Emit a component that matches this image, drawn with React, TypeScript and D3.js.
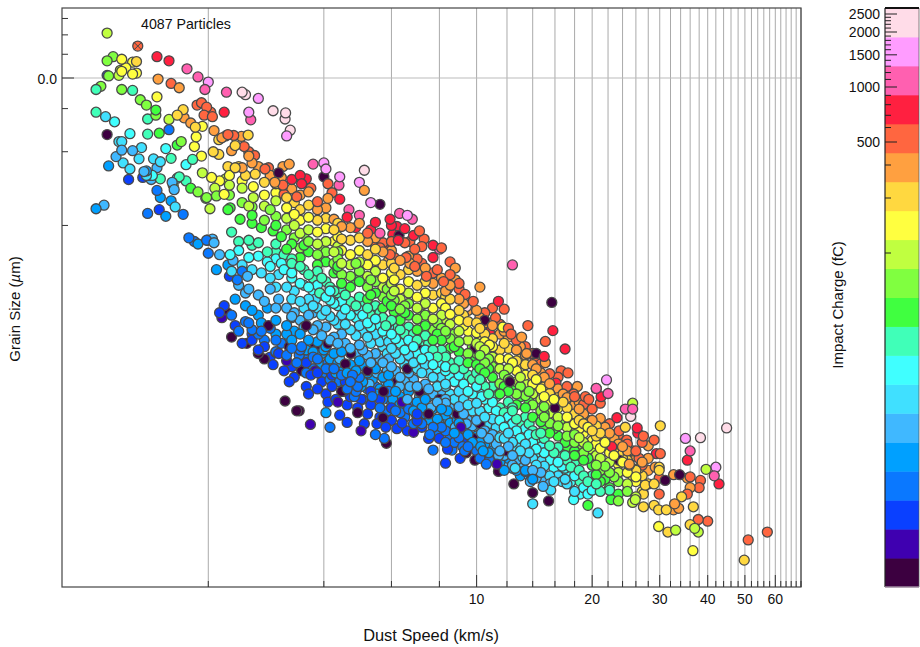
import React from "react";
import * as d3 from "d3";

const W = 920, H = 647;
const font = "'Liberation Sans', Arial, sans-serif";

// Palette of the charge bar, bottom to top
const palette = ["#3c0040","#3f00b0","#0a40ff","#0a78ff","#00a0ff","#40b8ff","#40e0ff","#40ffff","#40ffb8","#40ff40","#80ff40","#c0ff40","#ffff40","#ffd840","#ffa040","#ff6640","#ff2040","#ff60b0","#ff9cff","#ffdce8"];

const speedMajor = [10, 20, 30, 40, 50, 60];
const speedGrid = [2,4,6,8,10,12,14,16,18,20,22,24,26,28,30,32,34,36,38,40,42,44,46,48,50,52,54,56,58,60,62,64,66,68,70];
const sizeTicks = [70, 60, 50, 40, 30, 20, 10]; // units of 1e-3 micron
const chargeLabels = [2500, 2000, 1500, 1000, 500];
const chargeMinor = [2400,2300,2200,2100,1900,1800,1700,1600,1400,1300,1200,1100,900,800,700,600,400,300,200];
const chargeKnots = [17, 200, 300, 400, 500, 1000, 2000, 2500, 2900];

// [speed km/s, size 1e-3 micron, charge fC]
const upperLeft = [
[1.09,61,194],[1.31,54,510],[1.47,48.9,730],[1.58,47,730],[1.76,43.6,1050],[1.88,40.4,1050],[2,38.5,1540],[1.96,35.9,1050],[2.23,35,1050],[2.45,35,2250],[2.5,34.2,2250],
[1.13,48.9,158],[1.09,47,158],[1.19,47.7,240],[1.27,46.4,240],[1.3,46.7,300],[1.18,43,194],[1.27,41.5,240],[1.3,41.9,240],[1.19,42.6,240],[1.22,44,240],[1.09,41,28],[1.1,40.8,158],[1.17,41,194],
[1.02,35.9,102],[1.05,37,158],[1.19,35.9,158],[1.27,35.6,102],[1.48,39.6,390],[1.6,38,510],[1.68,36.5,390],[1.33,32.6,158],[1.38,31,158],[1.47,33.5,240],[1.46,29.6,126],[1.46,28.2,158],[1.39,27.2,102],
[1.02,29,102],[1.08,27.8,68],[1.14,26.5,83],[1.09,23.5,19],[1.25,23.7,83],[1.17,22,68],[1.19,22,68],[1.19,20.3,54],[1.27,20.2,54],[1.34,20.8,68],[1.39,23.6,102],[1.49,23.8,126],[1.58,24.6,35],[1.58,27.1,194],
[1.66,28.2,300],[1.72,29.7,300],[1.73,27.5,390],[1.8,26.2,390],[1.87,31,510],[1.92,31.7,510],[1.98,30.4,510],[1.95,28.2,510],[2.03,29,510],[2.05,27.8,510],[2.2,29,730],[1.85,25.2,300],[1.93,25.4,240],[1.86,23,240],[1.84,21,240],[1.92,19.2,240],[2.06,20,300],[2.13,19.5,300],[2.07,24.4,390],[2.13,22.4,300],[2.17,22.8,390],[2.22,23.2,510],[2.33,23.3,510],[2.44,23.1,390],[2.54,23.4,300],[2.25,23.5,510],[2.35,21.2,300],[2.48,21,510],[2.3,20.2,390],[2.55,20,510],[2.64,19.3,510],[2.81,17,510],
[2.25,17.4,300],[2.45,17.2,390],[2.7,33,1540],[2.95,29.4,2250],[3.18,28.8,2250],[3.17,27.2,2250],[3.27,24.5,2250],[3.2,23.2,1540],[2.55,29,1540],[2.58,27,1050],
[1.42,15.4,54],[1.1,17.5,43],[1.15,19.1,54],[1.2,18,68],[1.25,17,68],[1.32,18.7,68],[1.36,16.6,54],[1.43,16,83],[1.5,15.5,102],[1.62,14.6,126],[1.68,15.8,102],[1.75,15.2,102],[1.8,14.2,126],[1.88,13.7,158],[1.98,13,158],[1.75,17.7,83],[1.6,18.8,102],[1.5,18.2,68],[1.44,18.7,68],[1.55,20.6,83],[1.38,16,68],
[1.7,22,158],[1.66,21.3,126],[1.82,18.6,102],[1.93,16.4,194],[2.04,15.7,240],[2.08,14.2,194],[2.14,15.2,240],[2.2,13.4,240],[2.22,15.5,194],[2.1,13.2,158],[1.97,12.9,158],[2.02,11.7,194],[2.28,11.8,126]
];

const lowerLeft = [
[1.02,11.7,43],[1.07,12.1,54],[1.24,15.4,28],[1.35,15.7,28],[1.39,11.2,35],[1.49,11.6,28],[1.55,10.9,43],[1.38,16.7,43],[1.47,17.2,54],[1.4,16,35],[1.47,13.9,35],[1.5,13,43],[1.6,12.6,43],[1.63,14,54],[1.61,15,54],[1.66,15.6,68],[1.64,11.9,68],[1.72,11.1,35],[1.78,8.9,35],[1.84,8.6,35],[1.88,8.4,43],[1.98,8.7,35],[1.99,8.7,54],[2.05,8.8,54],[2,7.7,35],[2.07,8.5,54],[2.14,7.6,54],[2.25,6.9,43],[2.1,6.6,43],[2.27,6.2,28],[2.38,6,35],[2.32,7.2,54],[2.45,6.5,35],[2.53,6.2,54],
[2.17,4.2,23],[2.14,4.4,28],[2.24,4.4,19],[2.2,4.7,28],[2.3,3.5,19],[2.52,3.3,19],[2.8,2.85,19],[3.17,1.92,19],[3.4,1.75,19],[3.45,1.75,19],[3.69,1.54,23],[4.15,1.5,35],[4.6,1.57,28],[5,1.45,23],[5.45,1.4,35],[5.75,1.35,35],[5.82,1.29,19],[4.05,1.72,43],[4.4,1.68,28],
[7.7,1.21,35],[8.3,1.07,28],[8.63,1.21,35],[9.06,1.12,28],[9.4,1.18,19],[9.9,1.1,19],[10.6,1.06,35],[11.3,1.06,23],[11.4,0.99,19],[12.5,0.88,19],[13.4,0.99,35],[13.9,0.92,43],[14.9,0.86,54],[14,0.81,19],[14,0.73,68],[15.4,0.75,19],[15.6,0.83,68],[7.5,1.7,19],[12.2,2.3,19],[6.85,1.43,23],[7,1.59,28],[8,1.95,19],
[3.6,3.9,19],[4.1,3.3,19],[3,3.03,19],[3.5,2.55,19],[4.55,2.72,19],[5.2,2.55,19],[4.45,2.1,19],[5.72,2.1,19],[3.8,2.55,23],[3.2,2.8,23],[4.9,1.72,19],[5.7,1.64,19],[2.87,3.9,19],[3.25,3.2,19],[2.7,3,19],[6.4,1.9,23],[6.2,2.3,19],[7.1,2.1,19],[9.1,1.5,23],[8.9,1.7,19],[9.8,1.35,19],[10.2,1.55,19],[11,1.4,23],[12,1.2,19],[4.35,1.9,23],[3.65,2.05,28],[2.95,2.7,28],[2.6,3.6,28]
];

const lowerFill = [
[3.3,3.4,43],[3.5,3.2,35],[3.75,2.9,35],[3.9,2.7,43],[4.1,2.75,35],[4.3,2.5,43],[4.5,2.6,43],[4.75,2.45,35],[5,2.2,43],[5.25,2.25,54],[5.5,2.05,43],[5.8,2.3,54],[6.05,1.95,43],[6.3,1.85,43],[6.6,1.95,54],[6.95,1.7,43],[7.3,1.6,54],[7.6,1.8,54],[8,1.55,43],[8.4,1.6,54],[8.8,1.5,54],[9.2,1.38,43],[9.6,1.45,54],[10,1.3,54],[10.4,1.2,43],[10.9,1.25,54],[11.4,1.15,54],[12,1.08,54],[12.6,1.02,68],[13.2,1.13,68],[13.8,0.9,54],
[4,3.1,43],[4.4,2.85,54],[4.8,2.65,54],[5.1,2.65,43],[5.5,2.5,54],[5.9,2.25,43],[6.3,2.2,54],[6.7,2.2,54],[7.1,2,54],[7.5,2,43],[8,1.85,54],[8.4,1.75,43],[8.9,1.6,43],[9.4,1.55,54],[3.2,3.6,43],[3,3.4,35],[2.75,3.7,35],[2.55,4,35],[3.45,2.95,35],[3.6,2.75,28],[3.85,2.5,28],[4.2,2.45,28],[4.55,2.3,28],[4.9,2.2,35],[5.3,2.1,28],[5.6,1.95,28],[6,1.8,28],[6.5,1.72,28],[7,1.7,28],
[3.8,3.2,19],[4.7,3,19],[6.6,2.6,19],[7.1,3.1,19],[9.9,3.15,19],[10.5,4.1,19],[8.1,3.6,19],[16,1.8,19],[23.5,1.1,19]
];

const upperEdge = [
[7.7,7.4,730],[8.53,7.1,510],[12.4,6.9,1050],[8,8,1050],[7.2,7,510],[6.9,6.8,510],[8.8,6,390],[8.2,5.9,510],[8.8,6.7,390],[7.9,6.6,510],[7.4,6.2,510],[9,5.5,510],[9.33,5.23,510],[8.4,5.5,390],[10.2,5.6,390],[11.4,4.9,730],[11,4.6,510],[11.8,4.55,510],[15.7,4.85,19],[15.8,3.72,730],[13.6,3.9,510],[15.1,3.36,510],[17,3.13,730],[13.1,3.5,390],[10.8,3.66,730],[11.7,3.85,240],[14.3,3,19],[15,2.92,730],[13.5,3,390],[15.1,2.75,390],[17.3,2.5,510],[9.4,4.66,2250],[16.1,2.27,730],[18.3,2.2,390],[20.5,2.16,1050],[19.2,2,510],[17.9,2.05,510],
[5.1,16.8,2250],[4.95,15,1540],[5.1,13.9,390],[5.3,12.4,1540],[4.65,11.6,1050],[4.95,11,1050],[4.6,10.8,730],[4.84,9.8,730],[4,18,1540],[3.75,17.8,1050],[4.05,17,1540],[4.4,15.8,1540],[4.38,14.6,1050],[4,15.8,19],[4.1,14.8,510],[3.05,16.4,19],[3.13,17.4,390],[3.25,17.8,390],[2.87,17.2,510],[2.6,18,390],[2.4,17.4,300],[3.47,16,730],[3.3,15.4,730],[3.6,15.5,730],[3.5,14.8,730],[2.98,15,390],[3.13,14.6,510],[3.7,14.2,510],[4.2,13.6,510],[4.4,12.8,730],[3.4,13.1,510],[3.15,13.4,510],[3.85,12.5,510],[4.1,12.9,390],
[5.45,10.3,730],[5.3,9.6,730],[5.6,9.3,1050],[6,10,730],[5.95,10.6,730],[6.3,11.2,1050],[6.6,11,1540],[6.8,10.6,1050],[6.5,9.7,730],[6.05,9.2,730],[6.25,8.7,730],[6.85,9.1,730],[6.5,8.5,510],[7.1,9.5,510],[6.7,8.6,510],[6.9,8,510],[7.2,8.2,510],[7.7,8.3,730],[8.1,8.1,510],[7.3,8.8,510],
[5.6,12.2,19],[6.2,9.9,730],[6.28,9.1,19],[5.9,8.2,730],[5.35,8.6,510],[5.6,8.1,510],[5.95,7.6,510],[6.1,7.4,510],[6.55,7.4,510],[6.7,7,390],
[30.1,1.52,300],[44.8,1.49,2250],[35,1.35,1540],[38.3,1.36,2250],[36,1.2,1050],[35.4,1.1,730],[29,1.33,510],[30.1,1.17,510],[29.4,1.17,730],[39.6,1.01,194],[42,1.03,1540],[41.6,0.95,1050],[42.8,0.88,730],[32.6,0.96,390],[33.8,0.96,19],[36,0.94,510],[35.4,0.93,390],[38.3,0.91,510],[38,0.85,510],[36,0.85,390],[35.4,0.8,510],[34.2,0.78,300],[29.9,0.8,510],[29.9,0.93,510],[31,0.91,19],[29.9,1,300],[29.9,1.03,300],[29.2,1.03,390],[27.5,0.87,300],[29,0.88,300],[27.2,0.8,300],[25.9,0.76,194],[25.5,0.74,194],[27.2,0.71,300],[29,0.72,300],[29.8,0.69,300],[31.2,0.69,300],[32.8,0.73,390],[33.6,0.7,390],[32.6,0.69,390],[36.7,0.71,300],[37.8,0.63,510],[40,0.62,510],[36,0.6,300],[37,0.58,194],[37.8,0.56,194],[29.8,0.59,240],[31.5,0.56,300],[33,0.57,194],[36.6,0.47,240],[49.8,0.43,300],[51,0.52,510],[57.2,0.56,510],
[20.7,0.67,68],[23.4,0.75,158],[22.4,0.76,126],[19.5,0.72,126],[17.9,0.76,83],[24.4,1.5,300],[26.2,1.49,730],[26.3,1.42,730],[27.2,1.38,510],[23.2,1.64,730],[24.4,1.78,1050],[25.5,1.78,1050],[25.5,1.88,194],[25.2,1.66,2250],[21.8,2.34,1540],[20.5,2.16,1050],[22,2.06,1050],[21.1,2,730],[23.5,1.45,510],[24.6,1.33,510],[28,1.26,390],[26.5,1.12,510],[26,1.2,510],[27,1.3,510],[25,1.06,390],[27,1.05,510],[28,1,390],[22.5,1.25,730]
];

const chargeLevels = [102, 126, 158, 194, 240, 300, 390, 510, 83, 68, 54, 43, 35, 28];

const dense102 = [[2.3,9.4],[2.4,8.6],[2.55,8.7],[2.7,8.5],[2.85,7.8],[3,8.4],[3.15,7.6],[3.3,7.3],[3.47,6.8],[3.65,6.3],[3.85,6.5],[4.05,5.9],[4.25,5.4],[4.45,5.5],[4.69,4.9],[4.95,5.1],[5.2,4.6],[5.45,4.7],[5.7,4.2],[6,4.1],[6.32,3.75],[6.65,3.85],[7,3.4],[7.35,3.55],[7.7,3.1],[8.1,3.1],[8.53,2.75],[9,2.8],[9.5,2.45],[10,2.5],[10.5,2.2],[11,2.2],[11.5,1.8],[12.1,1.9],[12.7,1.62],[13.4,1.65],[14,1.45],[14.7,1.42],[15.5,1.26],[16.3,1.24],[17.2,1.1],[18,1.08],[19,0.95],[20,0.95],[21,0.82],[22.2,0.83],[3.9,5.3],[5.8,3.9],[8.3,2.95],[10.2,2.35],[12.4,1.75],[14.3,1.35],[16.7,1.16],[18.6,0.9],
[2.6,8.3],[3,7.8],[3.3,7],[3.55,6.6],[3.75,6.1],[3.95,6.1],[4.15,5.6],[4.35,5.3],[4.55,5.2],[4.85,4.7],[5.05,4.85],[5.3,4.3],[5.6,4.4],[5.85,3.95],[6.15,3.9],[6.5,3.6],[6.85,3.6],[7.2,3.2],[7.5,3.3],[7.9,2.9],[8.3,2.9],[8.75,2.6],[9.25,2.6],[9.75,2.35],[10.3,2.3],[10.75,2.05],[11.25,2],[11.8,1.72],[12.4,1.8],[13,1.55],[13.7,1.55],[14.3,1.4],[15,1.35],[15.9,1.18],[17,1.15],[17.6,1.03],[18.5,1],[19.5,0.9],[20.5,0.88]];
const dense126 = [[2.25,11.6],[2.42,10.6],[2.6,11],[2.75,9.8],[2.95,9.5],[3.1,9],[3.3,8.4],[3.47,7.4],[3.65,7.8],[3.85,6.9],[4.05,7.1],[4.25,6.4],[4.45,5.8],[4.69,5.6],[4.95,5.9],[5.2,5],[5.45,5.3],[5.7,4.6],[6,4.7],[6.32,4.1],[6.65,4.3],[7,3.75],[7.35,3.9],[7.7,3.4],[8.1,3.4],[8.53,3.15],[9,3.05],[9.5,2.75],[10,2.7],[10.5,2.5],[11,2.4],[11.5,2.05],[12.1,2.1],[12.7,1.85],[13.4,1.8],[14,1.65],[14.7,1.58],[15.5,1.42],[16.3,1.38],[17.2,1.25],[18,1.2],[19,1.1],[20,1.05],[21,0.9],[22.2,0.85],[23.4,0.8],[3.2,8],[4.35,6.8],[6.1,4.45],[8.3,3.6],[10.2,2.6],[13,2],[15,1.5],[18.5,1.15],
[2.6,10.2],[3,10],[3.55,8.3],[3.95,7.5],[4.35,6.6],[4.85,6],[5.3,5.2],[5.85,4.9],[6.5,4.4],[7.2,3.6],[7.9,3.6],[8.75,3.2],[9.75,2.85],[10.75,2.6],[11.8,2.2],[12.4,2.2],[13.7,1.9],[15,1.7],[15.9,1.48],[17,1.3],[18,1.15],[19.5,1.12],[20.5,0.96],[21.6,0.92]];
const dense158 = [[2.27,13.3],[2.45,12.4],[2.6,11.9],[2.8,10.5],[3,10.9],[3.2,9.6],[3.35,8.9],[3.47,8.1],[3.65,8.6],[3.85,7.6],[4.05,7.8],[4.25,7],[4.45,6.3],[4.69,6.2],[4.95,6.5],[5.2,5.6],[5.45,5.9],[5.7,5.1],[6,5.2],[6.32,4.55],[6.65,4.8],[7,4.15],[7.35,4.3],[7.7,3.75],[8.1,3.8],[8.53,3.45],[9,3.35],[9.5,3],[10,3],[10.5,2.75],[11,2.65],[11.5,2.26],[12.1,2.35],[12.7,2.05],[13.4,2.02],[14,1.85],[14.7,1.75],[15.5,1.56],[16.3,1.52],[17.2,1.38],[18,1.3],[19,1.18],[20,1.12],[21,1],[22.2,0.98],[23.4,0.9],[24.7,0.82],[2.9,11.6],[4.35,7.3],[6.1,4.95],[8.3,3.7],[10.2,2.95],[13,2.15],[15,1.65],[18.5,1.22],[20.5,1.05],
[3.55,9.2],[3.95,8.2],[4.35,7.8],[4.85,7],[5.3,6],[5.85,5.5],[6.5,4.7],[7.2,4.35],[7.9,4],[8.75,3.6],[9.75,3.2],[10.75,2.85],[11.8,2.45],[13,2.2],[13.7,2.1],[15,1.82],[16.5,1.6],[18,1.4],[19.5,1.25],[21.6,1.04],[22.8,0.94]];
const dense194 = [[2.27,14.6],[2.45,14.2],[2.62,13],[2.8,12],[3,12.6],[3.2,10.7],[3.35,10],[3.47,9.3],[3.65,9.6],[3.85,8.4],[4.05,8.6],[4.25,7.8],[4.45,7],[4.69,6.9],[4.95,7.1],[5.2,6.2],[5.45,6.5],[5.7,5.6],[6,5.8],[6.32,5],[6.65,5.3],[7,4.6],[7.35,4.8],[7.7,4.15],[8.1,4.3],[8.53,3.95],[9,3.7],[9.5,3.4],[10,3.3],[10.5,3.1],[11,2.9],[11.5,2.6],[12.1,2.6],[12.7,2.3],[13.4,2.25],[14,2.05],[14.7,1.95],[15.5,1.71],[16.3,1.65],[17.2,1.5],[18,1.42],[19,1.3],[20,1.2],[21,1.12],[22.2,1.08],[23.4,0.98],[24.7,0.88],[26,0.78],[2.55,12],[4.35,8.2],[6.1,5.4],[8.3,4.15],[10.2,3.2],[13,2.4],[15,1.85],[18.5,1.36],[20.5,1.15]];
const dense240 = [[2.27,16],[2.45,15.2],[2.62,14.4],[2.8,13.3],[3,13.6],[3.2,11.8],[3.35,11.1],[3.47,10.5],[3.65,10.8],[3.85,9.4],[4.05,9.7],[4.25,8.6],[4.45,7.9],[4.69,7.6],[4.95,7.9],[5.2,6.9],[5.45,7.2],[5.7,6.1],[6,6.4],[6.32,5.5],[6.65,5.9],[7,5.1],[7.35,5.3],[7.7,4.6],[8.1,4.8],[8.53,4.34],[9,4.1],[9.5,3.7],[10,3.65],[10.5,3.35],[11,3.2],[11.5,2.85],[12.1,2.85],[12.7,2.55],[13.4,2.45],[14,2.25],[14.7,2.15],[15.5,1.88],[16.3,1.8],[17.2,1.65],[18,1.55],[19,1.42],[20,1.32],[21,1.23],[22.2,1.18],[23.4,1.06],[24.7,0.98],[26,0.9],[27,0.82],[4.35,9],[6.1,6],[8.3,4.6],[10.2,3.5],[13,2.6],[15,2],[18.5,1.48],[20.5,1.28],[25.5,0.95],
[18.6,1.6],[19.5,1.5],[20.5,1.4],[21.6,1.3],[22.8,1.15],[24,1.08],[25,1.02],[26,0.94],[15.9,1.95],[14.3,2.35],[12.4,2.75],[10.8,3.25],[9.25,3.9]];
const dense300 = [[2.35,17.2],[2.5,16],[2.65,16.2],[2.8,15],[3,14.8],[3.2,13],[3.35,12.4],[3.47,11.6],[3.65,12.1],[3.85,10.5],[4.05,10.7],[4.25,9.6],[4.45,8.8],[4.69,8.7],[4.95,8.9],[5.2,7.6],[5.45,8],[5.7,6.9],[6,7],[6.32,6.3],[6.65,6.6],[7,5.7],[7.35,5.9],[7.7,5.2],[8.1,5.3],[8.53,5],[9,4.5],[9.5,4.05],[10,4],[10.5,3.6],[11,3.45],[11.5,3.1],[12.1,3.15],[12.7,2.8],[13.4,2.7],[14,2.45],[14.7,2.3],[15.5,2.06],[16.3,1.98],[17.2,1.8],[18,1.7],[19,1.55],[20,1.45],[21,1.42],[22.2,1.28],[23.4,1.16],[24.7,1.1],[26,1],[27,0.95],[28,0.88],[4.35,10.2],[6.1,6.7],[8.3,5.1],[10.2,3.8],[13,2.85],[15,2.2],[18.5,1.6],[20.5,1.38],
[19.5,1.6],[20.5,1.52],[21.6,1.35],[22.8,1.22],[24,1.12],[25,1.05],[26.5,1.02],[16.8,1.9],[14.3,2.55],[11.8,3.3],[9.25,4.3]];
const dense390 = [[2.55,19.2],[2.7,17.4],[2.9,16],[3.1,15.7],[3.3,14.1],[3.47,13.3],[3.65,13.7],[3.85,11.6],[4.05,11.8],[4.25,10.6],[4.45,9.9],[4.69,9.8],[4.95,10.2],[5.2,8.6],[5.45,8.9],[5.7,7.8],[6,7.9],[6.32,7.2],[6.65,7.5],[7,6.5],[7.35,6.7],[7.7,5.8],[8.1,6.1],[8.53,5.7],[9,5],[9.5,4.5],[10,4.5],[10.5,4],[11,3.9],[11.5,3.6],[12.1,3.5],[12.7,3.1],[13.4,2.95],[14,2.7],[14.7,2.5],[15.5,2.26],[16.3,2.15],[17.2,1.98],[18,1.85],[19,1.7],[20,1.6],[21,1.63],[22.2,1.42],[23.4,1.28],[24.7,1.2],[26,1.14],[27,1.08],[28,1.12],[5.9,7.2],[8.3,5.4],[10.2,4.2],[13,3.2],[15,2.4],[18.5,1.78],
[18.5,1.9],[21.6,1.5],[22.8,1.35],[24,1.25],[25.5,1.2],[16.8,2.05],[14.3,2.6],[11.8,3.7],[9.25,4.8]];
const dense510 = [[5.2,9.3],[5.7,8.5],[6,8.6],[7,7.3],[7.7,6.4],[8.53,6.3],[9,5.8],[9.8,4.9],[10.5,4.4],[11.2,4.2],[11.5,3.95],[12.1,3.8],[12.7,3.4],[13.4,3.2],[14,3],[14.7,2.72],[15.5,2.48],[16.3,2.4],[17.2,2.2],[18,2],[19,1.86],[20,1.78],[21,1.88],[22.2,1.55],[23.4,1.4],[24.7,1.28],[19.6,1.95],[16.6,2.55],[12.3,3.6],[14.2,2.85]];
const dense83 = [[2.28,7.6],[2.4,7.9],[2.55,7.4],[2.7,7.5],[2.85,7.1],[3,7.3],[3.15,6.6],[3.3,6.4],[3.47,5.8],[3.65,5.6],[3.85,5.7],[4.05,5.1],[4.25,4.8],[4.45,4.9],[4.69,4.3],[4.95,4.5],[5.2,4],[5.45,4.15],[5.7,3.7],[6,3.6],[6.32,3.3],[6.65,3.4],[7,3],[7.35,3.1],[7.7,2.7],[8.1,2.75],[8.53,2.4],[9,2.45],[9.5,2.1],[10,2.2],[10.5,1.95],[11,1.9],[11.5,1.6],[12.1,1.65],[12.7,1.45],[13.4,1.48],[14,1.3],[14.7,1.26],[15.5,1.1],[16.3,1.08],[17.2,0.98],[18,0.95],[19,0.85],[20,0.83],[3.1,7],[4.15,5.4],[5.9,3.85],[8.3,2.55],[10.2,2.05],[12.4,1.55],[14.3,1.18],[16.7,1.04],[18.6,0.8],
[2.9,6.8],[3.3,6.1],[3.55,5.7],[3.75,5.4],[3.95,5.2],[4.15,4.95],[4.35,4.7],[4.55,4.55],[4.85,4.2],[5.05,4.3],[5.3,3.85],[5.6,3.9],[5.85,3.5],[6.15,3.45],[6.5,3.1],[6.85,3.2],[7.2,2.85],[7.5,2.9],[7.9,2.6],[8.3,2.65],[8.75,2.3],[9.25,2.25],[9.75,2.05],[10.3,2],[10.75,1.8],[11.25,1.75],[11.8,1.5],[12.4,1.55],[13,1.35],[13.7,1.4],[14.3,1.22],[15,1.18],[15.9,1.02],[17,1.02],[17.6,0.9],[19.5,0.8]];
const dense68 = [[2.3,6.5],[2.45,6.9],[2.6,6.6],[2.75,6.4],[2.9,6.1],[3.05,6.3],[3.2,5.6],[3.35,5.4],[3.47,4.9],[3.65,5],[3.85,4.6],[4.05,4.5],[4.25,4.1],[4.45,4.3],[4.69,3.75],[4.95,3.9],[5.2,3.5],[5.45,3.6],[5.7,3.2],[6,3.15],[6.32,2.85],[6.65,2.95],[7,2.6],[7.35,2.7],[7.7,2.4],[8.1,2.4],[8.53,2.05],[9,2.1],[9.5,1.85],[10,1.88],[10.5,1.65],[11,1.62],[11.5,1.36],[12.1,1.42],[12.7,1.25],[13.4,1.28],[14,1.12],[14.7,1.1],[15.5,0.95],[16.3,0.95],[17.2,0.88],[18,0.82],[3.8,5],[5.9,3.35],[8.3,2.25],[10.2,1.75],[12.4,1.3],[14.3,1.02],[16.7,0.9],
[3,5.6],[3.3,5],[3.55,4.6],[3.75,4.7],[3.95,4.3],[4.15,4.25],[4.35,3.95],[4.55,3.95],[4.85,3.55],[5.05,3.65],[5.3,3.3],[5.6,3.35],[5.85,3],[6.15,3],[6.5,2.7],[6.85,2.75],[7.2,2.5],[7.5,2.5],[7.9,2.2],[8.3,2.2],[8.75,1.95],[9.25,1.95],[9.75,1.75],[10.3,1.7],[10.75,1.55],[11.25,1.5],[11.8,1.35],[12.4,1.35],[13,1.2],[13.7,1.18],[14.3,1.05],[15,1.04],[15.9,0.9],[17,0.92]];
const dense54 = [[2.4,5.7],[2.55,5.5],[2.7,5.2],[2.9,5.5],[3.05,5],[3.2,4.6],[3.35,4.4],[3.47,4.1],[3.65,4.3],[3.85,3.9],[4.05,3.85],[4.25,3.5],[4.45,3.6],[4.69,3.15],[4.95,3.25],[5.2,2.95],[5.45,3],[5.7,2.75],[6,2.65],[6.32,2.4],[6.65,2.5],[7,2.2],[7.35,2.25],[7.7,2.05],[8.1,2.05],[8.53,1.79],[9,1.82],[9.5,1.6],[10,1.6],[10.5,1.45],[11,1.4],[11.5,1.2],[12.1,1.25],[12.7,1.1],[13.4,1.1],[14,1],[14.7,0.98],[15.5,0.88],[3.75,4.4],[5.9,2.85],[8.3,1.95],[10.2,1.5],[12.4,1.15],[14.3,0.93],
[2.5,5.3],[2.8,4.9],[3,4.6],[3.3,4.25],[3.55,3.85],[3.75,3.75],[3.95,3.55],[4.15,3.4],[4.35,3.3],[4.55,3.3],[4.85,3],[5.05,3.1],[5.3,2.75],[5.6,2.85],[5.85,2.55],[6.15,2.55],[6.5,2.3],[6.85,2.35],[7.2,2.1],[7.5,2.15],[7.9,1.9],[8.3,1.88],[8.75,1.7],[9.25,1.7],[9.75,1.52],[10.3,1.42],[10.75,1.35],[11.25,1.28],[11.8,1.15],[12.4,1.05],[13,1.05],[13.7,0.95],[15,0.9]];
const dense43 = [[2.35,5],[2.5,4.7],[2.7,4.3],[2.85,4.6],[3,4.1],[3.2,3.9],[3.35,3.7],[3.47,3.6],[3.65,3.4],[3.85,3.35],[4.05,3.2],[4.25,3],[4.45,3.05],[4.69,2.7],[4.95,2.8],[5.2,2.5],[5.45,2.6],[5.7,2.4],[6,2.25],[6.32,2],[6.65,2.1],[7,1.9],[7.35,1.95],[7.7,1.78],[8.1,1.78],[8.53,1.56],[9,1.56],[9.5,1.4],[10,1.38],[10.5,1.28],[11,1.2],[11.5,1.08],[12.1,1.12],[12.7,1],[13.4,1],[14,0.92],[3.3,4.2],[5.9,2.45],[8.3,1.68],[10.2,1.3],
[2.6,4.5],[2.75,4],[3,3.6],[3.25,3.5],[3.6,3.1],[3.75,3.05],[3.95,3],[4.15,2.85],[4.35,2.75],[4.6,2.5],[4.85,2.55],[5.05,2.3],[5.35,2.35],[5.6,2.15],[5.85,2.05],[6.15,2.1],[6.5,1.85],[6.85,1.75],[7.2,1.8],[7.55,1.6],[7.9,1.62],[8.3,1.5],[8.75,1.42],[9.25,1.48],[9.75,1.3],[10.25,1.25],[10.75,1.18],[11.25,1.15],[11.8,1],[12.4,1.02],[13,0.95]];
const dense35 = [[2.3,4.3],[2.5,4.05],[2.7,3.6],[2.9,3.8],[3.1,3.3],[3.3,3.15],[3.47,3.1],[3.65,2.9],[3.85,2.85],[4.05,2.6],[4.25,2.6],[4.45,2.45],[4.69,2.3],[4.95,2.4],[5.2,2.15],[5.45,2.2],[5.7,1.95],[6,1.9],[6.32,1.72],[6.65,1.78],[7,1.62],[7.35,1.7],[7.7,1.5],[8.1,1.5],[8.53,1.36],[9,1.36],[9.5,1.25],[10,1.2],[3.6,2.5],[4.8,2],[5.9,2.1],[6.9,1.85],[8.3,1.45],[9.2,1.25],
[2.4,3.7],[2.6,3.75],[2.8,3.4],[3,3.05],[3.2,2.95],[3.4,2.75],[3.55,2.55],[3.75,2.6],[3.95,2.45],[4.15,2.35],[4.35,2.3],[4.6,2.15],[4.85,2.1],[5.05,1.95],[5.35,2],[5.6,1.8],[5.85,1.75],[6.15,1.75],[6.5,1.65],[6.85,1.55],[7.2,1.55],[7.55,1.4],[7.9,1.4],[8.3,1.3],[8.75,1.3],[9.3,1.2],[10.2,1.12],[10.8,1.1]];
const dense28 = [[2.35,3.9],[2.6,3.4],[2.8,3.2],[3.05,3],[3.3,2.65],[3.47,2.7],[3.7,2.45],[3.95,2.3],[4.2,2.2],[4.5,2.1],[4.69,2],[5,1.95],[5.3,1.85],[5.6,1.65],[6,1.6],[6.4,1.56],[7.2,1.5],[8,1.35],[9.2,1.3],[4.1,1.9],[3.25,2.3],[5.1,1.55],
[2.45,3.3],[2.7,3.1],[2.9,2.9],[3.15,2.55],[3.35,2.4],[3.6,2.2],[3.85,2.15],[4.05,2.05],[4.3,1.95],[4.6,1.85],[4.9,1.8],[5.2,1.7],[5.5,1.55],[5.8,1.5],[6.2,1.48],[6.6,1.45],[7.5,1.35],[8.4,1.22]];
const denseGroups = [dense102, dense126, dense158, dense194, dense240, dense300, dense390, dense510, dense83, dense68, dense54, dense43, dense35, dense28];

const flagged = [[1.31, 54]];

const x = d3.scaleLog().domain([0.8316, 70]).range([62, 801]);
const y = d3.scaleLog().domain([40, 0.334]).range([78, 587]);
const chargeY = d3.scaleLog().domain(chargeKnots).range([587, 253, 198, 165, 142, 87, 32, 14, 8]);
const binOf = d3.scaleQuantize().domain([8, 587]).range(d3.range(palette.length - 1, -1, -1));

const all: number[][] = [...lowerLeft, ...lowerFill, ...upperLeft, ...upperEdge];
denseGroups.forEach((g, i) => g.forEach((p) => all.push([p[0], p[1], chargeLevels[i]])));
// deterministic interleaving so that no charge level is uniformly on top
const ordered = d3.sort(all, (p) => (p[0] * 137.3 + p[1] * 311.7) % 1);

export default function App() {
  const [x0, x1] = x.range();
  return (
    <svg width={W} height={H} style={{ position: "absolute", left: 0, top: 0, fontFamily: font }}>
      <rect width={W} height={H} fill="#fff" />
      {speedGrid.map((v) => (
        <line key={v} x1={x(v)} x2={x(v)} y1={8} y2={587} stroke="#aaa" strokeWidth={1} />
      ))}
      <line x1={x0} x2={x1} y1={y(40)} y2={y(40)} stroke="#bbb" strokeWidth={1} />
      {ordered.map((p, i) => (
        <circle key={i} cx={x(p[0])} cy={y(p[1])} r={5} fill={palette[binOf(chargeY(p[2]))]} stroke="#4a4a4a" strokeWidth={1.3} />
      ))}
      {flagged.map((p, i) => (
        <path key={i} d={`M${x(p[0]) - 4},${y(p[1]) - 4}L${x(p[0]) + 4},${y(p[1]) + 4}M${x(p[0]) + 4},${y(p[1]) - 4}L${x(p[0]) - 4},${y(p[1]) + 4}`} stroke="#444" strokeWidth={1} />
      ))}
      <rect x={x0} y={8} width={x1 - x0} height={579} fill="none" stroke="#444" strokeWidth={1.2} />
      {speedGrid.map((v) => {
        const major = speedMajor.includes(v);
        return <line key={v} x1={x(v)} x2={x(v)} y1={587} y2={major ? 575 : 581} stroke="#333" strokeWidth={1} />;
      })}
      {speedMajor.map((v) => (
        <text key={v} x={x(v)} y={604} textAnchor="middle" fontSize={14} fill="#111">{v}</text>
      ))}
      {sizeTicks.map((v) => (
        <line key={v} x1={x0} x2={x0 + (v === 40 ? 12 : 6)} y1={y(v)} y2={y(v)} stroke="#333" strokeWidth={1} />
      ))}
      <text x={57} y={y(40) + 6} textAnchor="end" fontSize={14} fill="#111">{d3.format(".1f")(40 / 1000)}</text>
      <text x={141} y={29} fontSize={14.2} fill="#111">{`${4087} Particles`}</text>
      <text x={431} y={641} textAnchor="middle" fontSize={16.4} fill="#111">Dust Speed (km/s)</text>
      <text transform="translate(20,309) rotate(-90)" textAnchor="middle" fontSize={15} fill="#111">
        Grain Size (<tspan fontStyle="italic">µ</tspan>m)
      </text>
      <text transform="translate(843,305) rotate(-90)" textAnchor="middle" fontSize={15} fill="#111">Impact Charge (fC)</text>
      {palette.map((c, i) => (
        <rect key={c} x={885} y={587 - ((i + 1) * 579) / palette.length} width={34} height={579 / palette.length + 0.5} fill={c} />
      ))}
      <line x1={885} x2={885} y1={8} y2={587} stroke="#222" strokeWidth={1.2} />
      <line x1={919} x2={919} y1={8} y2={587} stroke="#555" strokeWidth={1} opacity={0.7} />
      <line x1={885} x2={919} y1={8} y2={8} stroke="#111" strokeWidth={2} />
      <line x1={885} x2={919} y1={587} y2={587} stroke="#ccc" strokeWidth={1} />
      {chargeMinor.map((v) => (
        <line key={v} x1={885} x2={891} y1={chargeY(v)} y2={chargeY(v)} stroke="#222" strokeWidth={1} />
      ))}
      {chargeLabels.map((v) => (
        <g key={v}>
          <line x1={885} x2={897} y1={chargeY(v)} y2={chargeY(v)} stroke="#222" strokeWidth={1} />
          <text x={880} y={chargeY(v) + 5} textAnchor="end" fontSize={14} fill="#111">{v}</text>
        </g>
      ))}
    </svg>
  );
}
